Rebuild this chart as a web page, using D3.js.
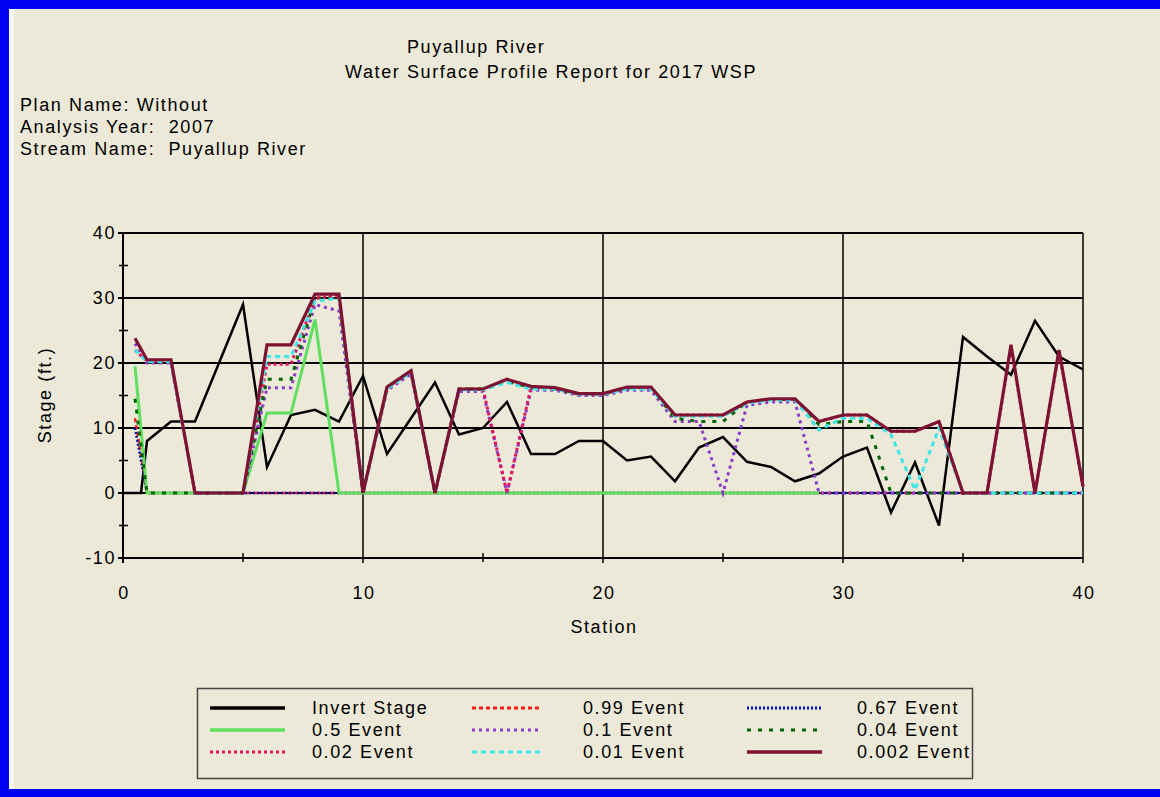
<!DOCTYPE html>
<html>
<head>
<meta charset="utf-8">
<title>Puyallup River</title>
<script src="https://cdn.jsdelivr.net/npm/d3@7"></script>
<style>
body { margin: 0; background: #ece9d8; }
svg text { font-family: "Liberation Sans", Arial, sans-serif; font-size: 18px; letter-spacing: 1.6px; fill: #000; }
</style>
</head>
<body>
<div id="chart"></div>
<script>
// ----------------------------------------
// DATA (stage in ft. at each station)

var stations = [0, 0.5, 0.75, 1, 2, 3, 4, 5, 6, 7, 8, 9, 10, 11, 12, 13, 14, 15, 16, 17, 18, 19, 20,
	21, 22, 23, 24, 25, 26, 27, 28, 29, 30, 31, 32, 33, 34, 35, 36, 37, 38, 39, 40];

var invertStage = [0, 0, 0, 8, 11, 11, 20, 29, 4, 12, 12.8, 11, 18, 6, 11.5, 17, 9, 10, 14, 6, 6, 8, 8,
	5, 5.6, 1.8, 7, 8.6, 4.8, 4, 1.8, 3, 5.6, 7, -3, 4.7, -5, 24, 21, 18.2, 26.5, 21, 19];

var event099 = [null, 11.5, null, 0, 0, 0, 0, 0, 0, 0, 0, 0, 0, 0, 0, 0, 0, 0, 0, 0, 0, 0, 0,
	0, 0, 0, 0, 0, 0, 0, 0, 0, 0, 0, 0, 0, 0, 0, 0, 0, 0, 0, 0];

var event067 = [null, 10, null, 0, 0, 0, 0, 0, 0, 0, 0, 0, 0, 0, 0, 0, 0, 0, 0, 0, 0, 0, 0,
	0, 0, 0, 0, 0, 0, 0, 0, 0, 0, 0, 0, 0, 0, 0, 0, 0, 0, 0, 0];

var event05 = [null, 19.5, null, 0, 0, 0, 0, 0, 12.3, 12.3, 26.7, 0, 0, 0, 0, 0, 0, 0, 0, 0, 0, 0, 0,
	0, 0, 0, 0, 0, 0, 0, 0, 0, null, null, null, null, null, null, null, null, null, null, null];

var event01 = [null, 23, null, 20, 20, 0, 0, 0, 16.2, 16.2, 29, 28, 0, 15.8, 18.3, 0, 15.6, 15.6, 0, 15.8, 15.8, 15, 15,
	15.8, 15.8, 11, 11, 0, 13.5, 14, 14, 0, 0, 0, 0, 0, 0, 0, 0, 0, 0, 0, 0];

var event004 = [null, 14.5, null, 0, 0, 0, 0, 0, 17.5, 17.5, 30, 30, 0, 16.2, 18.7, 0, 16, 16, 17.2, 16.2, 16, 15.2, 15.2,
	16.2, 16.2, 11.5, 11, 11, 14, 14.4, 14.4, 10.5, 11, 11, 0, 0, 0, 0, 0, 0, 0, 0, 0];

var event002 = [null, 22, null, 20.3, 20.3, 0, 0, 0, 19.8, 19.8, 30, 30.3, 0, 16.2, 18.7, 0, 16, 16, 0, 16.3, 16.1, 15.2, 15.2,
	16.2, 16.2, 12, 12, 12, 14, 14.4, 14.4, 11, 12, 12, 9.5, 9.5, 11, 0, 0, 22.5, 0, 21.8, 1];

var event001 = [null, 22, null, 20.2, 20.2, 0, 0, 0, 21, 21, 29.5, 30, 0, 16, 18.6, 0, 15.9, 15.9, 17, 16, 16, 15.2, 15.2,
	16, 16, 11.8, 11.8, 11.8, 13.8, 14.3, 14.3, 9.7, 11.5, 11.5, 9, 0.5, 10, 0, 0, 0, 0, 0, 0];

var event0002 = [null, 23.8, null, 20.5, 20.5, 0, 0, 0, 22.8, 22.8, 30.6, 30.6, 0, 16.3, 18.8, 0, 16, 16, 17.5, 16.4, 16.2, 15.3, 15.3,
	16.3, 16.3, 12, 12, 12, 14, 14.5, 14.5, 11, 12, 12, 9.5, 9.5, 11, 0, 0, 22.8, 0, 22, 1];

var seriesNames = ["Invert Stage", "0.99 Event", "0.67 Event", "0.5 Event", "0.1 Event",
	"0.04 Event", "0.02 Event", "0.01 Event", "0.002 Event"];
var seriesValues = [invertStage, event099, event067, event05, event01, event004, event002, event001, event0002];

var xTicks = [0, 10, 20, 30, 40];
var yTicks = [-10, 0, 10, 20, 30, 40];

var titleLines = ["Puyallup River", "Water Surface Profile Report for 2017 WSP"];
var infoLines = ["Plan Name: Without", "Analysis Year:  2007", "Stream Name:  Puyallup River"];

// ----------------------------------------
// STYLES

var styles = {
	"Invert Stage": { color: "#000000", width: 2.5, dash: null },
	"0.99 Event":   { color: "#ff1a1a", width: 2.5, dash: "4,3" },
	"0.67 Event":   { color: "#0010b0", width: 2.5, dash: "2,2" },
	"0.5 Event":    { color: "#5ee05e", width: 3, dash: null },
	"0.1 Event":    { color: "#8a3cc8", width: 3, dash: "3,4" },
	"0.04 Event":   { color: "#006400", width: 3, dash: "4,7" },
	"0.02 Event":   { color: "#e0145a", width: 3, dash: "3,3" },
	"0.01 Event":   { color: "#3ee6e6", width: 3, dash: "5,4" },
	"0.002 Event":  { color: "#7d1233", width: 3.2, dash: null }
};

// ----------------------------------------
// CHART

var width = 1160;
var height = 797;

var svg = d3.select("#chart").append("svg")
	.attr("width", width)
	.attr("height", height);

// window frame
svg.append("rect").attr("width", width).attr("height", height).attr("fill", "#ece9d8");
svg.append("rect").attr("x", 9).attr("y", 9).attr("width", 5).attr("height", 780).attr("fill", "#f4f6fa");
svg.append("rect").attr("x", 0).attr("y", 0).attr("width", 9).attr("height", height).attr("fill", "#0000f5");
svg.append("rect").attr("x", 0).attr("y", 0).attr("width", width).attr("height", 9).attr("fill", "#0000f5");
svg.append("rect").attr("x", 0).attr("y", 789).attr("width", width).attr("height", 8).attr("fill", "#0000f5");

// titles
svg.append("text").attr("x", 407).attr("y", 53).text(titleLines[0]);
svg.append("text").attr("x", 345).attr("y", 78).text(titleLines[1]);

svg.selectAll(".info")
	.data(infoLines)
	.enter().append("text")
	.attr("class", "info")
	.attr("x", 20)
	.attr("y", function (d, i) { return 111 + i * 22; })
	.style("white-space", "pre")
	.text(function (d) { return d; });

// scales
var xScale = d3.scaleLinear().domain([0, 40]).range([123, 1083]);
var yScale = d3.scaleLinear().domain([-10, 40]).range([558, 233]);

// grid
svg.selectAll(".hgrid")
	.data(yTicks)
	.enter().append("line")
	.attr("x1", xScale(0) - 5).attr("x2", xScale(40))
	.attr("y1", function (d) { return yScale(d); })
	.attr("y2", function (d) { return yScale(d); })
	.attr("stroke", "#000").attr("stroke-width", 2);

svg.selectAll(".vgrid")
	.data(xTicks)
	.enter().append("line")
	.attr("x1", function (d) { return xScale(d); })
	.attr("x2", function (d) { return xScale(d); })
	.attr("y1", yScale(40)).attr("y2", yScale(-10) + 5)
	.attr("stroke", "#000").attr("stroke-width", function (d) { return d === 0 ? 2 : 1.5; });

// minor ticks
var yMinor = d3.range(-5, 40, 10);
var xMinor = d3.range(5, 40, 10);
svg.selectAll(".ymin")
	.data(yMinor)
	.enter().append("line")
	.attr("x1", xScale(0) - 4).attr("x2", xScale(0) + 5)
	.attr("y1", function (d) { return yScale(d); })
	.attr("y2", function (d) { return yScale(d); })
	.attr("stroke", "#000").attr("stroke-width", 1.5);
svg.selectAll(".xmin")
	.data(xMinor)
	.enter().append("line")
	.attr("x1", function (d) { return xScale(d); })
	.attr("x2", function (d) { return xScale(d); })
	.attr("y1", yScale(-10) - 5).attr("y2", yScale(-10) + 4)
	.attr("stroke", "#000").attr("stroke-width", 1.5);

// tick labels
svg.selectAll(".ylab")
	.data(yTicks)
	.enter().append("text")
	.attr("x", 116)
	.attr("y", function (d) { return yScale(d) + 6; })
	.attr("text-anchor", "end")
	.text(function (d) { return d; });

svg.selectAll(".xlab")
	.data(xTicks)
	.enter().append("text")
	.attr("x", function (d) { return xScale(d) + 1; })
	.attr("y", 599)
	.attr("text-anchor", "middle")
	.text(function (d) { return d; });

// axis titles
svg.append("text")
	.attr("transform", "translate(51,395) rotate(-90)")
	.attr("text-anchor", "middle")
	.text("Stage (ft.)");
svg.append("text")
	.attr("x", 604).attr("y", 633)
	.attr("text-anchor", "middle")
	.text("Station");

// profile lines
var pathGenerator = d3.line()
	.x(function (d) { return xScale(d.s); })
	.y(function (d) { return yScale(d.v); });

seriesNames.forEach(function (name, k) {
	var pts = stations.map(function (s, i) { return { s: s, v: seriesValues[k][i] }; })
		.filter(function (d) { return d.v !== null; });
	var st = styles[name];
	svg.append("path")
		.attr("d", pathGenerator(pts))
		.attr("fill", "none")
		.attr("stroke", st.color)
		.attr("stroke-width", st.width)
		.attr("stroke-dasharray", st.dash)
		.attr("stroke-linejoin", "miter");
});

// ----------------------------------------
// LEGEND

svg.append("rect")
	.attr("x", 197.5).attr("y", 688.5).attr("width", 775).attr("height", 90)
	.attr("fill", "none").attr("stroke", "#444").attr("stroke-width", 1.5);

var legSwatchX = [[210, 285], [472, 540], [747, 822]];
var legTextX = [312, 583, 857];

var legend = svg.selectAll(".leg")
	.data(seriesNames)
	.enter().append("g")
	.attr("transform", function (d, i) { return "translate(0," + (708 + Math.floor(i / 3) * 22) + ")"; });

legend.append("line")
	.attr("x1", function (d, i) { return legSwatchX[i % 3][0]; })
	.attr("x2", function (d, i) { return legSwatchX[i % 3][1]; })
	.attr("stroke", function (d) { return styles[d].color; })
	.attr("stroke-width", function (d) { return styles[d].dash ? 3 : 3.5; })
	.attr("stroke-dasharray", function (d) { return styles[d].dash; });

legend.append("text")
	.attr("x", function (d, i) { return legTextX[i % 3]; })
	.attr("y", 6)
	.text(function (d) { return d; });
</script>
</body>
</html>
